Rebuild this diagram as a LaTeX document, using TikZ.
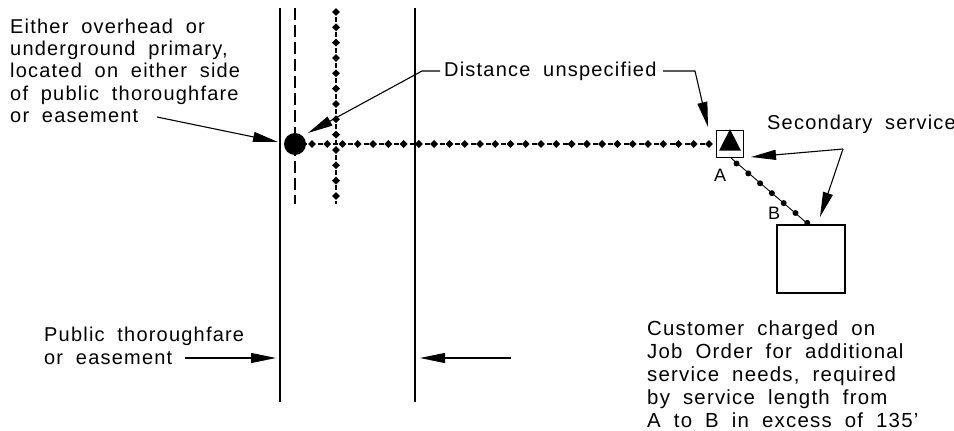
\documentclass[tikz,border=0pt]{standalone}
\usepackage{fontspec}
\setmainfont[LetterSpace=6,WordSpace=1.9]{Liberation Sans}
\usetikzlibrary{arrows.meta,shapes.geometric}
\tikzstyle{road}=[line width=1.6pt]
\tikzstyle{leader}=[line width=1.1pt,-{Triangle[length=25pt,width=10pt]}]
\tikzstyle{plainline}=[line width=0.9pt]
\tikzstyle{primary}=[line width=1.6pt,dash pattern=on 11.5pt off 5.5pt]
\tikzstyle{service}=[line width=1.4pt,dash pattern=on 5pt off 10.3pt]
\tikzstyle{spot}=[diamond, fill=black, inner sep=0pt, minimum size=8pt]
\tikzstyle{dot}=[circle, fill=black, inner sep=0pt, minimum size=6pt]
\tikzstyle{note}=[align=left, anchor=north west, inner sep=0pt, font=\fontsize{20}{22.4}\selectfont]
\newcommand{\spot}{\node[spot]}
\newcommand{\dotn}{\node[dot]}
\begin{document}
\begin{tikzpicture}[x=1pt,y=-1pt]
\useasboundingbox (0,0) rectangle (954,431);
\coordinate (rl1) at (280,8);
\coordinate (rl2) at (280,402);
\coordinate (rr1) at (415,8);
\coordinate (rr2) at (415,402);
\coordinate (p1) at (295,8);
\coordinate (p2) at (295,204);
\coordinate (s1) at (336,8);
\coordinate (s2) at (336,204);
\draw[road] (rl1) -- (rl2) (rr1) -- (rr2);
\draw[primary] (p1) -- (p2);
\draw[service, dash phase=6.2pt] (s1) -- (s2);
\node[circle, fill=black, inner sep=0pt, minimum size=22pt] (pole) at (295,144) {};
\node[draw, line width=1.6pt, inner sep=0pt, minimum size=27pt] (xfmr) at (730,144) {};
\node[isosceles triangle, isosceles triangle apex angle=54, shape border rotate=90, fill=black, inner sep=0pt, minimum height=21pt, minimum width=22pt] (tri) at (730,144) {};
\node[draw, line width=1.6pt, inner sep=0pt, minimum size=68pt] (cust) at (811,259) {};
\draw[service, dash phase=3.8pt] (pole) -- (xfmr);
\foreach \i in {0,...,12}{
	\spot (v\i) at (336,{12+15.33*\i}){};
	}
\foreach \i in {0,...,26}{
	\spot (h\i) at ({312+15.27*\i},144){};
	}
\coordinate (sv1) at (731,158);
\coordinate (sv2) at (808,224);
\draw[plainline] (sv1) -- (sv2);
\foreach \i in {0,...,6}{
	\dotn (d\i) at ({736.5+11.8*\i},{163.5+9.9*\i}){};
	}
\node[note] (either) at (10,18.5) {Either overhead or\\underground primary,\\located on either side\\of public thoroughfare\\or easement};
\node[note, anchor=west] (dist) at (444,71) {Distance unspecified};
\node[note] (secondary) at (767,115) {Secondary service};
\node[note] (public) at (44,327) {Public thoroughfare\\or easement};
\node[note, font=\fontsize{20.4}{22.8}\selectfont] (customer) at (647,321) {Customer charged on\\Job Order for additional\\service needs, required\\by service length from\\A to B in excess of 135'};
\node[note, font=\fontsize{18}{18}\selectfont] (a) at (714,169) {A};
\node[note, font=\fontsize{18}{18}\selectfont] (b) at (768,207) {B};
\coordinate (e1) at (157,117);
\coordinate (e2) at (278,142);
\coordinate (d1) at (440,71);
\coordinate (d2) at (422,71);
\coordinate (d3) at (308,133);
\coordinate (d4) at (663,71);
\coordinate (d5) at (695,71);
\coordinate (d6) at (708,127);
\coordinate (c0) at (843,149);
\coordinate (c1) at (751,157);
\coordinate (c2) at (820,217);
\coordinate (t1) at (185,358);
\coordinate (t2) at (276,358);
\coordinate (t3) at (511,358);
\coordinate (t4) at (420,358);
\draw[leader] (e1) -- (e2);
\draw[leader] (d1) -- (d2) -- (d3);
\draw[leader] (d4) -- (d5) -- (d6);
\draw[leader] (c0) -- (c1);
\draw[leader] (c0) -- (c2);
\draw[leader] (t1) -- (t2);
\draw[leader] (t3) -- (t4);
\end{tikzpicture}
\end{document}
